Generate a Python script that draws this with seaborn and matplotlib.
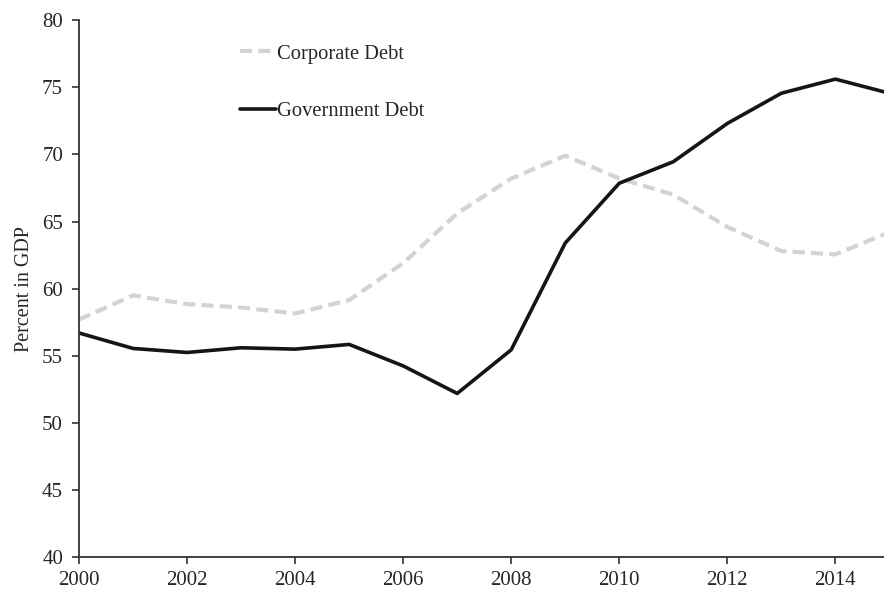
import numpy as np
import pandas as pd
import matplotlib
matplotlib.use("Agg")
import matplotlib.pyplot as plt
import seaborn as sns

# Corporate vs government debt, percent of GDP
years = [2000, 2001, 2002, 2003, 2004, 2005, 2006, 2007,
         2008, 2009, 2010, 2011, 2012, 2013, 2014, 2015]
corporate_debt = [57.7, 59.5, 58.85, 58.6, 58.15, 59.15, 61.9, 65.6,
                  68.2, 69.9, 68.2, 67.0, 64.6, 62.8, 62.55, 64.2]
government_debt = [56.7, 55.55, 55.25, 55.6, 55.5, 55.85, 54.25, 52.2,
                   55.45, 63.4, 67.85, 69.45, 72.3, 74.55, 75.6, 74.55]
series_names = ["Corporate Debt", "Government Debt"]

df = pd.DataFrame({"year": years,
                   "Corporate Debt": corporate_debt,
                   "Government Debt": government_debt})

sns.set_style("ticks")
plt.rcParams["font.family"] = ["Liberation Serif", "DejaVu Serif"]

fig = plt.figure(figsize=(8.84, 5.89), dpi=100)
ax = fig.add_axes([0.0894, 0.0538, 0.9106, 0.9122])

sns.lineplot(data=df, x="year", y="Corporate Debt", ax=ax, color="#d3d3d3",
             linewidth=3, dashes=False, label=series_names[0])
ax.lines[-1].set_dashes((2.9, 1.5))
sns.lineplot(data=df, x="year", y="Government Debt", ax=ax, color="#151515",
             linewidth=2.6, label=series_names[1])

ax.set_xlim(2000, 2014.9)
ax.set_ylim(40, 80)
ax.set_xticks(np.arange(2000, 2015, 2))
ax.set_yticks(np.arange(40, 81, 5))
ax.set_xlabel("")
ax.set_ylabel("Percent in GDP", fontsize=14.5, labelpad=6)
ax.tick_params(labelsize=15, length=5, width=1.2, color="#333333")
ax.tick_params(axis="x", pad=4.5)
ax.tick_params(axis="y", pad=6.5)

sns.despine(ax=ax)
for s in ["left", "bottom"]:
    ax.spines[s].set_color("#333333")
    ax.spines[s].set_linewidth(1.3)

ax.legend(loc="upper left", bbox_to_anchor=(0.2, 0.955), frameon=False,
          fontsize=14.8, handlelength=1.75, handletextpad=0.05,
          labelspacing=1.85, borderpad=0, borderaxespad=0)

fig.savefig("out.png", dpi=100)
